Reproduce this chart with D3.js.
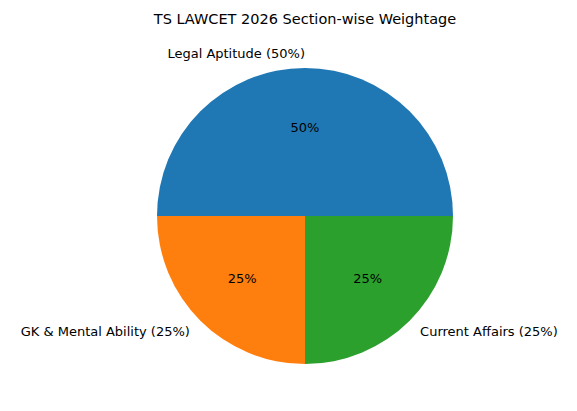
<!DOCTYPE html>
<html><head><meta charset="utf-8">
<script src="https://cdn.jsdelivr.net/npm/d3@7"></script>
<style>body{margin:0;background:#fff}text{font-family:"DejaVu Sans",sans-serif}</style>
</head><body>
<script>
const categories = ["Legal Aptitude", "GK & Mental Ability", "Current Affairs"];
const values = [50, 25, 25];
const colors = ["#1f77b4", "#ff7f0e", "#2ca02c"];
const title = "TS LAWCET 2026 Section-wise Weightage";

const W = 577, H = 411, cx = 305, cy = 216, R = 148;
const svg = d3.select("body").append("svg").attr("width", W).attr("height", H);
svg.append("text").attr("x", 305).attr("y", 24).attr("text-anchor", "middle")
  .attr("font-size", 14.5).text(title);
const data = categories.map((c, i) => ({c, v: values[i], col: colors[i]}));
const pie = d3.pie().sort(null).value(d => d.v).startAngle(Math.PI / 2).endAngle(Math.PI / 2 - 2 * Math.PI);
const arcs = pie(data);
const g = svg.append("g").attr("transform", `translate(${cx},${cy})`);
const arc = d3.arc().innerRadius(0).outerRadius(R);
g.selectAll("path").data(arcs).join("path").attr("d", arc).attr("fill", d => d.data.col);
const total = d3.sum(values);
arcs.forEach(a => {
  const m = (a.startAngle + a.endAngle) / 2; // d3 angle, clockwise from north
  const x = Math.sin(m), y = -Math.cos(m);
  const lx = 1.1 * R * x, ly = 1.1 * R * y;
  g.append("text").attr("x", lx).attr("y", ly).attr("dy", "0.35em")
    .attr("text-anchor", x > 1e-9 ? "start" : "end").attr("font-size", 13)
    .text(`${a.data.c} (${Math.round(a.data.v / total * 100)}%)`);
  g.append("text").attr("x", 0.6 * R * x).attr("y", 0.6 * R * y).attr("dy", "0.35em")
    .attr("text-anchor", "middle").attr("font-size", 13)
    .text(`${Math.round(a.data.v / total * 100)}%`);
});
</script>
</body></html>
